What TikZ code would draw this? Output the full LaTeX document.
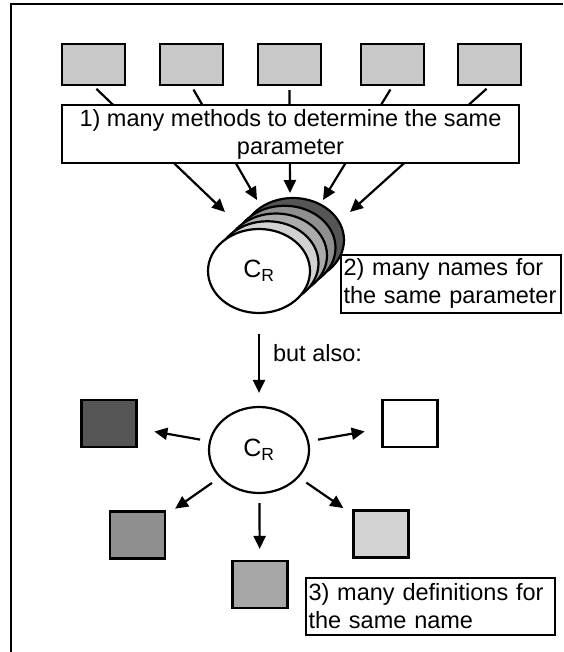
\documentclass[tikz,border=0pt]{standalone}
\usepackage{fontspec}
\setmainfont{Liberation Sans}
\usetikzlibrary{arrows.meta,shapes.geometric}

\definecolor{methodgray}{HTML}{C8C8C8}
\definecolor{layerA}{HTML}{D2D2D2}
\definecolor{layerB}{HTML}{ABABAB}
\definecolor{layerC}{HTML}{8F8F8F}
\definecolor{layerD}{HTML}{555555}

\tikzset{
   line/.style ={
      -, line width=2.2pt, color=black,
   },
   arrow/.style ={
      -{Triangle[length=13pt,width=12pt]}, line width=2.2pt, color=black,
   },
   method/.style ={
      rectangle, draw, line width=2.2pt, fill=methodgray,
      minimum width=63pt, minimum height=41pt,
   },
   meaning/.style ={
      rectangle, draw, line width=2.2pt,
      minimum width=55pt, minimum height=47pt,
   },
   note/.style ={
      rectangle, draw, fill=white, line width=2pt,
      font=\fontsize{23.5}{28}\selectfont, inner xsep=3pt, inner ysep=0pt,
   },
   param/.style ={
      ellipse, draw, fill=white, line width=2.2pt,
      font=\fontsize{25}{28}\selectfont,
   },
}

\begin{document}
\begin{tikzpicture}[x=1pt,y=-1pt]

      \useasboundingbox (0,0) rectangle (563,652);

      % frame
      \draw[line, line width=2.4pt] (11,652) |- (563,4);

      % the methods
      \foreach \i/\x in {1/93.5, 2/191.5, 3/289.5, 4/392.5, 5/489.5}
         \node[method] (m\i) at (\x,64.5) {};

      \coordinate (in1) at (225,212);
      \coordinate (in2) at (257,200);
      \coordinate (in3) at (290,193);
      \coordinate (in4) at (323,200);
      \coordinate (in5) at (350,212);

      \foreach \i in {1,...,5}
         \draw[arrow, shorten <=4pt] (m\i.south) -- (in\i);

      \node[
         note,
         align=center,
         minimum width=457pt,
         minimum height=58pt,
      ] (methods) at (290.5,134) {1) many methods to determine the same\\parameter};

      % stack of names behind the front one
      \foreach \k/\shade in {4/layerD, 3/layerC, 2/layerB, 1/layerA}
         \draw[line, fill=\shade] ({259+8.5*\k},{271-7.75*\k}) ellipse [x radius=51pt, y radius=42pt];

      \node[
         param,
         minimum width=102pt,
         minimum height=84pt,
      ] (cr1) at (259,271) {C\textsubscript{R}};

      \node[
         note,
         align=left,
         text width=214pt,
         minimum height=58pt,
      ] (names) at (450.5,283.5) {2) many names for\\the same parameter};

      \node[
         param,
         minimum width=100pt,
         minimum height=86pt,
      ] (cr2) at (259,450) {C\textsubscript{R}};

      \draw[arrow, shorten <=20pt, shorten >=13pt] (cr1) -- node[
         pos=0.42,
         anchor=west,
         inner sep=0pt,
         xshift=13pt,
         font=\fontsize{23.5}{28}\selectfont,
      ] {but also:} (cr2);

      % the definitions
      \node[meaning, fill=layerD] (d1) at (109,423.5) {};
      \node[meaning, fill=white] (d2) at (410,423.5) {};
      \node[meaning, fill=layerC] (d3) at (137.5,535) {};
      \node[meaning, fill=layerA] (d4) at (381,534) {};
      \node[meaning, fill=layerB!85!layerC] (d5) at (260,584.5) {};

      \draw[arrow, shorten <=9pt, shorten >=17pt] (cr2) -- (d1);
      \draw[arrow, shorten <=9pt, shorten >=17pt] (cr2) -- (d2);
      \draw[arrow, shorten <=9pt, shorten >=11pt] (cr2) -- (d3);
      \draw[arrow, shorten <=9pt, shorten >=11pt] (cr2) -- (d4);
      \draw[arrow, shorten <=9pt, shorten >=11pt] (cr2) -- (d5);

      \node[
         note,
         align=left,
         text width=243pt,
         minimum height=57pt,
      ] (defs) at (430,606) {3) many definitions for\\the same name};

\end{tikzpicture}
\end{document}
